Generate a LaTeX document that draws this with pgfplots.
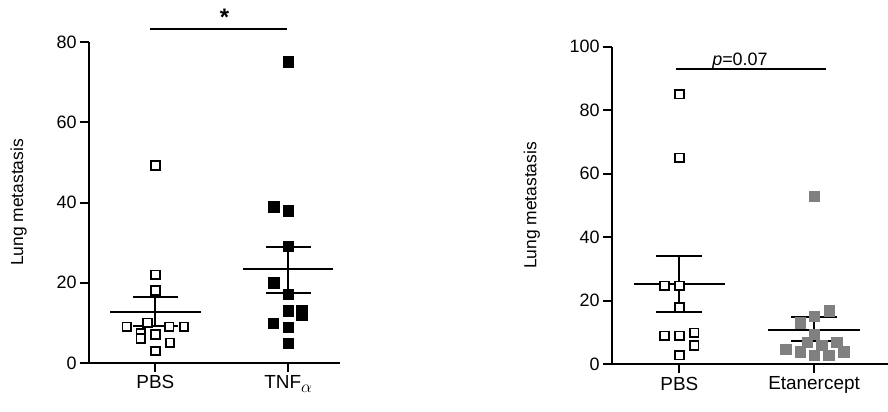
\documentclass[border=0pt]{standalone}
\usepackage{pgfplots}
\pgfplotsset{compat=1.18}
\usepackage{fontspec}
\setmainfont{Liberation Sans}
\definecolor{mgray}{RGB}{128,128,128}
\pgfplotsset{
  myax/.style={
    scale only axis, clip=false,
    axis x line=bottom, axis y line=left,
    axis line style={-, line width=2bp, black},
    tick style={line width=2bp, black},
    tick align=outside, major tick length=9bp,
    xmin=-0.5, ymin=0,
    xtick={0,1},
    /pgf/number format/assume math mode=true,
    yticklabel style={font=\fontsize{18}{18}\selectfont},
    xticklabel style={font=\fontsize{19}{19}\selectfont},
    ylabel style={font=\fontsize{17.5}{17.5}\selectfont},
    ylabel={Lung metastasis},
  },
  openmk/.style={only marks, mark=square*, mark size=4.3bp, mark options={fill=white, draw=black, line width=1.7bp}},
  blackmk/.style={only marks, mark=square*, mark size=5.2bp, mark options={fill=black, draw=black, line width=0.3bp}},
  graymk/.style={only marks, mark=square*, mark size=5.2bp, mark options={fill=mgray, draw=mgray, line width=0.3bp}},
  ln/.style={black, line width=2bp, mark=none},
}
\begin{document}
\begin{tikzpicture}
\path[use as bounding box] (0bp,0bp) rectangle (888bp,412bp);
% ---------- left panel
\begin{axis}[myax, at={(89bp,49bp)}, anchor=south west, width=251bp, height=321bp,
  xmax=1.39, ymax=80, ytick={0,20,40,60,80},
  xticklabels={PBS, TNF\raisebox{-3.5bp}{\fontsize{17}{17}\selectfont$\alpha$}},
  ylabel style={at={(axis description cs:-0.28,0.5)}, anchor=center}]
\addplot[openmk] coordinates {
(-0.215,9) (-0.06,10) (0.104,9) (0.215,9) (-0.11,7.4) (-0.11,6.1)
(0,7.1) (0.11,5.0) (0,3.0) (0,18.1) (0,22) (0,49.2)};
\addplot[blackmk] coordinates {
(1,75.1) (0.89,39.0) (1,38.0) (1,29.1) (0.89,20.0) (1,17.1) (1,13.0)
(1.1,13.2) (1.1,12.0) (0.885,10.0) (1,9.0) (1,5.0)};
\addplot[ln] coordinates {(-0.34,12.75) (0.34,12.75)};
\addplot[ln] coordinates {(0,9.1) (0,16.5)};
\addplot[ln] coordinates {(-0.17,9.1) (0.17,9.1)};
\addplot[ln] coordinates {(-0.17,16.5) (0.17,16.5)};
\addplot[ln] coordinates {(0.66,23.4) (1.34,23.4)};
\addplot[ln] coordinates {(1,17.5) (1,28.8)};
\addplot[ln] coordinates {(0.83,17.5) (1.17,17.5)};
\addplot[ln] coordinates {(0.83,28.8) (1.17,28.8)};
\addplot[ln] coordinates {(-0.037,83.3) (0.993,83.3)};
\node[font=\fontsize{24}{24}\selectfont\bfseries, anchor=south, inner sep=0pt] at (axis cs:0.52,84.0) {*};
\end{axis}
% ---------- right panel
\begin{axis}[myax, at={(612bp,47.7bp)}, anchor=south west, width=276bp, height=317.6bp,
  xmax=1.549, ymax=100, ytick={0,20,40,60,80,100},
  xticklabels={PBS, Etanercept},
  ylabel style={at={(axis description cs:-0.29,0.5)}, anchor=center}]
\addplot[openmk] coordinates {
(0,85) (0,65) (-0.11,24.7) (0,24.7) (0,17.9) (-0.11,9.0) (0,9.0)
(0.11,9.9) (0.11,5.9) (0,2.9)};
\addplot[graymk] coordinates {
(1,53.0) (1.114,16.9) (1,15.2) (0.896,13.1) (1,9.4) (0.95,6.9) (1.057,6.1)
(1.168,6.9) (0.79,4.8) (0.896,4.0) (1.22,4.0) (1,2.9) (1.107,2.9)};
\addplot[ln] coordinates {(-0.34,25.3) (0.34,25.3)};
\addplot[ln] coordinates {(0,16.5) (0,34.2)};
\addplot[ln] coordinates {(-0.17,16.5) (0.17,16.5)};
\addplot[ln] coordinates {(-0.17,34.2) (0.17,34.2)};
\addplot[ln] coordinates {(0.66,10.8) (1.34,10.8)};
\addplot[ln] coordinates {(1,7.4) (1,14.8)};
\addplot[ln] coordinates {(0.83,7.4) (1.17,7.4)};
\addplot[ln] coordinates {(0.83,14.8) (1.17,14.8)};
\addplot[ln] coordinates {(-0.025,92.95) (1.087,92.95)};
\node[font=\fontsize{18}{18}\selectfont, anchor=base, inner sep=0pt] at (axis cs:0.45,94.2) {\textit{p}=0.07};
\end{axis}
\end{tikzpicture}
\end{document}
